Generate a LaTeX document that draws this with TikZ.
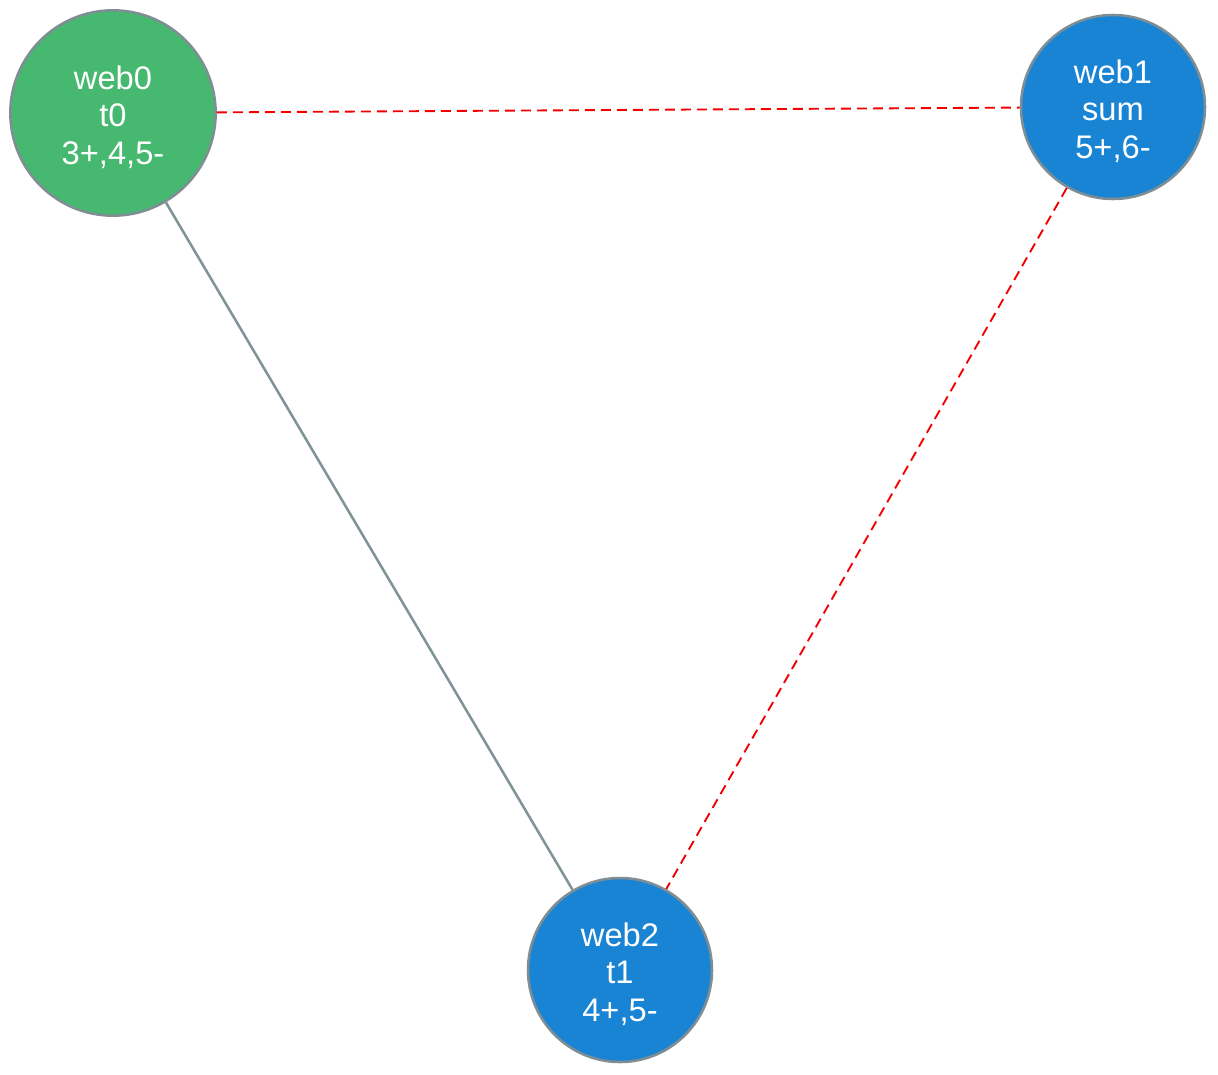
\documentclass[tikz,border=0pt]{standalone}
\usepackage{fontspec}
\setmainfont{Liberation Sans}
\definecolor{nodegreen}{HTML}{47B870}
\definecolor{nodeblue}{HTML}{1A84D4}
\definecolor{rimgrey}{HTML}{7F8E94}
\definecolor{edgegrey}{HTML}{7F9496}
\definecolor{edgered}{HTML}{F00000}
\begin{document}
\begin{tikzpicture}[x=0.75pt,y=-0.75pt,
  webnode/.style={circle, draw=rimgrey, line width=1.9pt, text=white, align=center,
    inner sep=0pt, text height=81.5pt, text depth=5pt, font=\fontsize{24.5}{28}\selectfont},
  solidedge/.style={draw=edgegrey, line width=1.9pt},
  dashedge/.style={draw=edgered, line width=1.4pt, dash pattern=on 7.5pt off 4.5pt}]
\useasboundingbox (0,0) rectangle (1218,1075);
\node[webnode, fill=nodegreen, minimum size=154pt] (w0) at (113,113) {web0\\t0\\3+,4,5-};
\node[webnode, fill=nodeblue, minimum size=138pt] (w1) at (1113,107) {web1\\sum\\5+,6-};
\node[webnode, fill=nodeblue, minimum size=138pt] (w2) at (620,970) {web2\\t1\\4+,5-};
\draw[solidedge] (w0) -- (w2);
\draw[dashedge] (w0) -- (w1);
\draw[dashedge] (w1) -- (w2);
\end{tikzpicture}
\end{document}
